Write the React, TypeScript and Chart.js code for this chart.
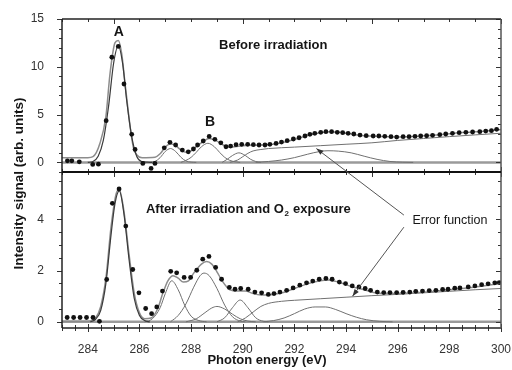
import React, { useEffect, useRef } from "react";
import { Chart, registerables } from "chart.js";

Chart.register(...registerables);

// ---------- tick labels ----------
const xTickValues = [284, 286, 288, 290, 292, 294, 296, 298, 300];
const topYTicks = [0, 5, 10, 15];
const botYTicks = [0, 2, 4];

// ---------- top panel: before irradiation ----------
const topDotX = [283.21, 283.38, 283.67, 284.19, 284.41, 284.71, 284.93, 285.18, 285.4, 285.7, 285.83, 286.13, 286.45, 286.6, 286.96, 287.18, 287.4, 287.66, 287.89, 288.09, 288.25, 288.47, 288.7, 288.92, 289.15, 289.35, 289.53, 289.74, 289.96, 290.19, 290.41, 290.63, 290.86, 291.05, 291.29, 291.5, 291.72, 291.96, 292.18, 292.41, 292.6, 292.79, 293.02, 293.22, 293.44, 293.66, 293.87, 294.08, 294.3, 294.54, 294.78, 295.05, 295.27, 295.5, 295.74, 295.96, 296.21, 296.44, 296.67, 296.89, 297.12, 297.35, 297.63, 297.86, 298.12, 298.38, 298.64, 298.9, 299.18, 299.41, 299.63, 299.83];
const topDotY = [0.17, 0.17, 0.06, -0.21, -0.18, 4.37, 11.0, 12.13, 8.2, 2.94, 1.36, -0.11, -0.63, -0.11, 1.53, 2.1, 1.82, 1.29, 1.11, 1.4, 1.82, 2.24, 2.72, 2.41, 2.05, 1.64, 1.71, 1.85, 1.89, 1.89, 1.85, 1.82, 1.82, 1.89, 1.99, 2.13, 2.27, 2.45, 2.58, 2.76, 2.94, 3.04, 3.15, 3.21, 3.21, 3.15, 3.11, 3.04, 2.97, 2.86, 2.8, 2.76, 2.76, 2.73, 2.69, 2.65, 2.69, 2.69, 2.73, 2.76, 2.79, 2.83, 2.9, 2.97, 3.04, 3.11, 3.15, 3.18, 3.21, 3.28, 3.32, 3.46];

const topFitX = [283.0, 284.0, 284.2, 284.47, 284.7, 284.86, 285.05, 285.18, 285.31, 285.44, 285.64, 285.76, 285.9, 286.1, 286.6, 286.8, 287.0, 287.2, 287.4, 287.6, 287.8, 288.0, 288.2, 288.45, 288.7, 288.95, 289.2, 289.4, 289.6, 290.0, 290.5, 291.0, 291.5, 292.0, 292.5, 293.0, 293.4, 293.9, 294.5, 295.0, 295.5, 296.0, 296.5, 297.0, 297.5, 298.0, 298.5, 299.0, 299.5, 300.0];
const topFitY = [0.5, 0.5, 0.6, 2.0, 4.8, 9.3, 12.5, 12.76, 11.4, 8.3, 3.7, 1.6, 0.77, 0.5, 0.55, 0.9, 1.6, 1.95, 1.75, 1.3, 1.05, 1.2, 1.65, 2.15, 2.5, 2.3, 1.9, 1.6, 1.6, 1.75, 1.8, 1.85, 2.05, 2.4, 2.8, 3.1, 3.2, 3.1, 2.85, 2.75, 2.7, 2.65, 2.7, 2.78, 2.87, 3.0, 3.12, 3.2, 3.3, 3.45];

const topAX = [284.0, 284.2, 284.4, 284.6, 284.8, 285.0, 285.18, 285.35, 285.5, 285.7, 285.9, 286.1, 286.3, 286.5];
const topAY = [0, 0.1, 0.64, 2.3, 5.8, 10.4, 12.2, 10.3, 6.6, 2.7, 0.6, 0.08, 0.02, 0];
const topC1X = [286.4, 286.6, 286.8, 287.0, 287.2, 287.4, 287.6, 287.8, 288.0, 288.2];
const topC1Y = [0, 0.1, 0.5, 1.15, 1.45, 1.15, 0.55, 0.15, 0.03, 0];
const topBX = [287.6, 287.8, 288.0, 288.2, 288.4, 288.65, 288.9, 289.1, 289.3, 289.5, 289.7, 289.9];
const topBY = [0, 0.21, 0.53, 1.06, 1.64, 2.0, 1.64, 1.06, 0.53, 0.21, 0.07, 0];
const topC3X = [289.2, 289.4, 289.6, 289.85, 290.1, 290.3, 290.5, 290.7];
const topC3Y = [0, 0.33, 0.72, 1.0, 0.72, 0.33, 0.1, 0];
const topErfX = [289.5, 289.8, 290.0, 290.2, 290.4, 290.7, 291.0, 292.0, 293.0, 294.0, 295.0, 296.0, 297.0, 298.0, 299.0, 300.0];
const topErfY = [0, 0.25, 0.6, 0.95, 1.2, 1.35, 1.45, 1.6, 1.75, 1.9, 2.05, 2.3, 2.5, 2.7, 2.88, 3.05];
const topC4X = [290.5, 291.0, 291.5, 292.0, 292.5, 293.0, 293.3, 293.7, 294.2, 294.7, 295.2, 295.7, 296.2, 296.6];
const topC4Y = [0, 0.1, 0.25, 0.5, 0.85, 1.15, 1.22, 1.18, 1.0, 0.65, 0.32, 0.1, 0.02, 0];

// ---------- bottom panel: after irradiation and O2 exposure ----------
const botDotX = [283.2, 283.45, 283.7, 283.95, 284.2, 284.45, 284.73, 284.95, 285.21, 285.47, 285.74, 285.98, 286.24, 286.47, 286.67, 286.89, 287.21, 287.44, 287.73, 287.98, 288.22, 288.45, 288.69, 288.95, 289.18, 289.48, 289.7, 289.92, 290.21, 290.47, 290.73, 290.99, 291.21, 291.44, 291.7, 291.95, 292.21, 292.47, 292.71, 292.96, 293.22, 293.46, 293.74, 293.98, 294.24, 294.5, 294.74, 294.95, 295.21, 295.46, 295.7, 295.96, 296.21, 296.47, 296.7, 296.96, 297.22, 297.48, 297.74, 297.95, 298.21, 298.41, 298.73, 298.99, 299.25, 299.5, 299.76, 299.93];
const botDotY = [0.17, 0.17, 0.17, 0.17, 0.17, 0.02, 1.65, 4.62, 5.18, 3.73, 2.04, 1.13, 0.52, 0.32, 0.58, 1.2, 1.97, 1.91, 1.73, 1.73, 2.01, 2.44, 2.55, 2.12, 1.66, 1.34, 1.27, 1.3, 1.27, 1.16, 1.13, 1.07, 1.1, 1.16, 1.23, 1.32, 1.43, 1.52, 1.59, 1.66, 1.69, 1.66, 1.55, 1.49, 1.4, 1.36, 1.3, 1.23, 1.16, 1.14, 1.14, 1.14, 1.15, 1.16, 1.19, 1.2, 1.22, 1.23, 1.26, 1.27, 1.31, 1.32, 1.36, 1.4, 1.45, 1.48, 1.52, 1.53];

const botFitX = [283.0, 284.0, 284.3, 284.5, 284.7, 284.9, 285.1, 285.22, 285.4, 285.6, 285.8, 286.0, 286.2, 286.45, 286.7, 286.9, 287.1, 287.3, 287.5, 287.7, 287.9, 288.1, 288.4, 288.6, 288.8, 289.0, 289.2, 289.5, 289.8, 290.1, 290.4, 290.7, 291.0, 291.5, 292.0, 292.5, 293.0, 293.3, 293.7, 294.2, 294.7, 295.2, 295.7, 296.5, 297.5, 298.5, 299.3, 300.0];
const botFitY = [0.02, 0.02, 0.15, 0.6, 1.7, 3.7, 5.0, 5.15, 4.3, 2.6, 1.1, 0.35, 0.12, 0.15, 0.5, 1.1, 1.6, 1.8, 1.7, 1.55, 1.6, 1.9, 2.25, 2.35, 2.25, 1.95, 1.6, 1.25, 1.2, 1.2, 1.1, 1.05, 1.05, 1.12, 1.3, 1.48, 1.6, 1.63, 1.55, 1.38, 1.25, 1.12, 1.1, 1.12, 1.2, 1.3, 1.4, 1.5];

const botAX = [284.1, 284.3, 284.5, 284.7, 284.9, 285.05, 285.22, 285.4, 285.6, 285.8, 286.0, 286.2, 286.4];
const botAY = [0, 0.1, 0.45, 1.5, 3.4, 4.6, 5.1, 4.2, 2.4, 0.9, 0.25, 0.05, 0];
const botC1X = [286.2, 286.5, 286.8, 287.0, 287.25, 287.5, 287.75, 288.0, 288.3, 288.6];
const botC1Y = [0, 0.12, 0.55, 1.1, 1.6, 1.25, 0.65, 0.22, 0.05, 0];
const botC2X = [287.2, 287.5, 287.8, 288.1, 288.35, 288.5, 288.7, 289.0, 289.3, 289.6, 289.9, 290.1];
const botC2Y = [0, 0.25, 0.7, 1.35, 1.8, 1.9, 1.8, 1.3, 0.65, 0.2, 0.03, 0];
const botC3X = [287.8, 288.2, 288.5, 288.8, 289.0, 289.3, 289.6, 289.9, 290.2, 290.5];
const botC3Y = [0, 0.12, 0.33, 0.54, 0.6, 0.5, 0.3, 0.12, 0.03, 0];
const botC4X = [289.0, 289.3, 289.6, 289.9, 290.2, 290.5, 290.8, 291.0];
const botC4Y = [0, 0.16, 0.55, 0.85, 0.55, 0.16, 0.02, 0];
const botErfX = [289.8, 290.1, 290.4, 290.7, 291.0, 291.5, 292.0, 293.0, 294.0, 295.0, 296.0, 297.0, 298.0, 299.0, 300.0];
const botErfY = [0, 0.15, 0.38, 0.6, 0.72, 0.8, 0.84, 0.9, 0.96, 1.02, 1.07, 1.13, 1.19, 1.25, 1.3];
const botC5X = [290.8, 291.2, 291.6, 292.0, 292.4, 292.8, 293.2, 293.6, 294.0, 294.4, 294.8, 295.3, 295.8];
const botC5Y = [0, 0.05, 0.15, 0.32, 0.5, 0.58, 0.58, 0.48, 0.32, 0.18, 0.08, 0.02, 0];

const baseX = [283, 300];
const baseY = [0, 0];

const FONT = '"Liberation Sans", Arial, Helvetica, sans-serif';
const NARROW = '"Liberation Sans Narrow", "Arial Narrow", "Liberation Sans", Arial, sans-serif';

const pts = (xs: number[], ys: number[]) => xs.map((x, i) => ({ x, y: ys[i] }));

const curve = (xs: number[], ys: number[], axis: string, color: string, width: number) => ({
  type: "line" as const,
  data: pts(xs, ys),
  yAxisID: axis,
  borderColor: color,
  borderWidth: width,
  pointRadius: 0,
  fill: false,
  cubicInterpolationMode: "monotone" as const,
});

const dots = (xs: number[], ys: number[], axis: string) => ({
  type: "line" as const,
  data: pts(xs, ys),
  yAxisID: axis,
  showLine: false,
  pointRadius: 2.4,
  pointBackgroundColor: "#111",
  pointBorderWidth: 0,
  borderColor: "#111",
});

const framePlugin = {
  id: "frameTicks",
  afterDatasetsDraw(chart: any) {
    const { ctx, scales } = chart;
    const x = scales.x;
    const yT = scales.yTop;
    const yB = scales.yBot;
    const L = x.left, R = x.right;
    const top = yT.top, mid = yT.bottom, bot = yB.bottom;
    const seg = (x1: number, y1: number, x2: number, y2: number) => {
      ctx.beginPath();
      ctx.moveTo(x1, y1);
      ctx.lineTo(x2, y2);
      ctx.stroke();
    };
    ctx.save();
    ctx.strokeStyle = "#333";
    ctx.lineWidth = 1;
    for (let v = 283; v <= 300.001; v += 1) {
      const px = Math.round(x.getPixelForValue(v)) + 0.5;
      const len = v % 5 === 0 ? 5 : 3;
      seg(px, top, px, top + len);
      seg(px, mid, px, mid - len);
      seg(px, mid, px, mid + len);
    }
    for (let v = 283; v <= 300.001; v += 0.5) {
      const px = Math.round(x.getPixelForValue(v)) + 0.5;
      const major = Math.abs(v % 2) < 1e-6;
      seg(px, bot - (major ? 4 : 3), px, bot + (major ? 4 : 3));
    }
    for (let v = -1; v <= 15.001; v += 1) {
      const py = Math.round(yT.getPixelForValue(v)) + 0.5;
      const len = v % 5 === 0 ? 5 : 3;
      seg(L - len, py, L, py);
      seg(R - len, py, R, py);
    }
    for (let v = 0; v <= 5.8; v += 0.5) {
      const py = Math.round(yB.getPixelForValue(v)) + 0.5;
      const len = Math.abs(v % 2) < 1e-6 ? 5 : 3;
      seg(L - len, py, L, py);
      seg(R - len, py, R, py);
    }
    ctx.strokeStyle = "#222";
    ctx.lineWidth = 1.5;
    seg(L, top, R, top);
    seg(L, top, L, bot);
    seg(L, bot, R, bot);
    ctx.strokeStyle = "#555";
    seg(R, top, R, bot);
    ctx.strokeStyle = "#111";
    ctx.lineWidth = 2;
    seg(L, mid, R, mid);
    ctx.restore();
  },
};

const arrow = (ctx: CanvasRenderingContext2D, x1: number, y1: number, x2: number, y2: number) => {
  ctx.beginPath();
  ctx.moveTo(x1, y1);
  ctx.lineTo(x2, y2);
  ctx.stroke();
  const a = Math.atan2(y2 - y1, x2 - x1);
  const hl = 7, hw = 2.6;
  ctx.beginPath();
  ctx.moveTo(x2, y2);
  ctx.lineTo(x2 - hl * Math.cos(a) + hw * Math.sin(a), y2 - hl * Math.sin(a) - hw * Math.cos(a));
  ctx.lineTo(x2 - hl * Math.cos(a) - hw * Math.sin(a), y2 - hl * Math.sin(a) + hw * Math.cos(a));
  ctx.closePath();
  ctx.fill();
};

const annotPlugin = {
  id: "annotations",
  afterDraw(chart: any) {
    const { ctx, scales } = chart;
    const x = scales.x, yT = scales.yTop, yB = scales.yBot;
    ctx.save();
    ctx.fillStyle = "#151515";
    ctx.textBaseline = "middle";
    ctx.textAlign = "center";
    ctx.font = `bold 14px ${FONT}`;
    ctx.fillText("A", x.getPixelForValue(285.2), yT.getPixelForValue(13.6));
    ctx.fillText("B", x.getPixelForValue(288.73), yT.getPixelForValue(4.2));
    ctx.font = `bold 13px ${FONT}`;
    ctx.fillText("Before irradiation", x.getPixelForValue(291.18), yT.getPixelForValue(12.2));
    ctx.textAlign = "left";
    let tx = x.getPixelForValue(286.25);
    const ty = yB.getPixelForValue(4.38);
    const s1 = "After irradiation and O";
    ctx.fillText(s1, tx, ty);
    tx += ctx.measureText(s1).width;
    ctx.font = `bold 8px ${FONT}`;
    ctx.fillText("2", tx + 0.5, ty + 4);
    tx += ctx.measureText("2").width + 1;
    ctx.font = `bold 13px ${FONT}`;
    ctx.fillText(" exposure", tx, ty);
    ctx.font = `12.5px ${FONT}`;
    ctx.fillText("Error function", x.getPixelForValue(296.57), yB.getPixelForValue(3.96));
    ctx.strokeStyle = "#555";
    ctx.fillStyle = "#333";
    ctx.lineWidth = 1;
    arrow(ctx, x.getPixelForValue(296.24), yB.getPixelForValue(4.16), x.getPixelForValue(292.85), yT.getPixelForValue(1.45));
    arrow(ctx, x.getPixelForValue(296.24), yB.getPixelForValue(3.69), x.getPixelForValue(294.25), yB.getPixelForValue(1.0));
    ctx.fillStyle = "#151515";
    ctx.textAlign = "center";
    ctx.font = `bold 13px ${FONT}`;
    ctx.fillText("Photon energy (eV)", 267, 360);
    ctx.translate(19, 183.5);
    ctx.rotate(-Math.PI / 2);
    ctx.font = `bold 13.5px ${FONT}`;
    ctx.fillText("Intensity signal (arb. units)", 0, 0);
    ctx.restore();
  },
};

export default function App() {
  const ref = useRef<HTMLCanvasElement | null>(null);
  useEffect(() => {
    if (!ref.current) return;
    const tickFont = { family: NARROW, size: 12 };
    const chart = new Chart(ref.current, {
      type: "line",
      data: {
        datasets: [
          dots(topDotX, topDotY, "yTop"),
          dots(botDotX, botDotY, "yBot"),
          curve(topAX, topAY, "yTop", "#3a3a3a", 1.2),
          curve(botAX, botAY, "yBot", "#3a3a3a", 1.2),
          curve(topFitX, topFitY, "yTop", "#8c8c8c", 1.5),
          curve(botFitX, botFitY, "yBot", "#8c8c8c", 1.5),
          curve(topC1X, topC1Y, "yTop", "#707070", 1),
          curve(topBX, topBY, "yTop", "#707070", 1),
          curve(topC3X, topC3Y, "yTop", "#707070", 1),
          curve(topErfX, topErfY, "yTop", "#707070", 1),
          curve(topC4X, topC4Y, "yTop", "#707070", 1),
          curve(botC1X, botC1Y, "yBot", "#707070", 1),
          curve(botC2X, botC2Y, "yBot", "#707070", 1),
          curve(botC3X, botC3Y, "yBot", "#707070", 1),
          curve(botC4X, botC4Y, "yBot", "#707070", 1),
          curve(botErfX, botErfY, "yBot", "#707070", 1),
          curve(botC5X, botC5Y, "yBot", "#707070", 1),
          curve(baseX, baseY, "yTop", "#9a9a9a", 2.5),
          curve(baseX, baseY, "yBot", "#9a9a9a", 2.5),
        ] as any,
      },
      options: {
        responsive: false,
        animation: false,
        devicePixelRatio: 1,
        layout: { padding: { top: 19, right: 11, left: 0, bottom: 0 } },
        plugins: { legend: { display: false }, tooltip: { enabled: false }, title: { display: false } },
        scales: {
          x: {
            type: "linear",
            position: "bottom",
            min: 283,
            max: 300,
            grid: { display: false },
            border: { display: false },
            ticks: { font: tickFont, color: "#333", padding: 6, maxRotation: 0, autoSkip: false, callback: (v: any) => String(v) },
            afterBuildTicks: (s: any) => { s.ticks = xTickValues.map((v) => ({ value: v })); },
            afterFit: (s: any) => { s.height = 42; s.paddingLeft = 0; s.paddingRight = 0; },
          },
          yBot: {
            type: "linear",
            position: "left",
            stack: "panels",
            stackWeight: 1.02,
            weight: 1,
            min: -0.24,
            max: 5.84,
            grid: { display: false },
            border: { display: false },
            ticks: { font: tickFont, color: "#333", padding: 10, callback: (v: any) => String(v) },
            afterBuildTicks: (s: any) => { s.ticks = botYTicks.map((v) => ({ value: v })); },
            afterFit: (s: any) => { s.width = 62; s.paddingTop = 0; s.paddingBottom = 0; },
          },
          yTop: {
            type: "linear",
            position: "left",
            stack: "panels",
            stackWeight: 1,
            weight: 2,
            min: -1,
            max: 15,
            grid: { display: false },
            border: { display: false },
            ticks: { font: tickFont, color: "#333", padding: 10, callback: (v: any) => String(v) },
            afterBuildTicks: (s: any) => { s.ticks = topYTicks.map((v) => ({ value: v })); },
            afterFit: (s: any) => { s.width = 62; s.paddingTop = 0; s.paddingBottom = 0; },
          },
        } as any,
      },
      plugins: [framePlugin, annotPlugin],
    });
    return () => chart.destroy();
  }, []);
  return (
    <div style={{ position: "fixed", left: 0, top: 0, width: 512, height: 370, background: "#fff" }}>
      <canvas ref={ref} width={512} height={370} />
    </div>
  );
}
